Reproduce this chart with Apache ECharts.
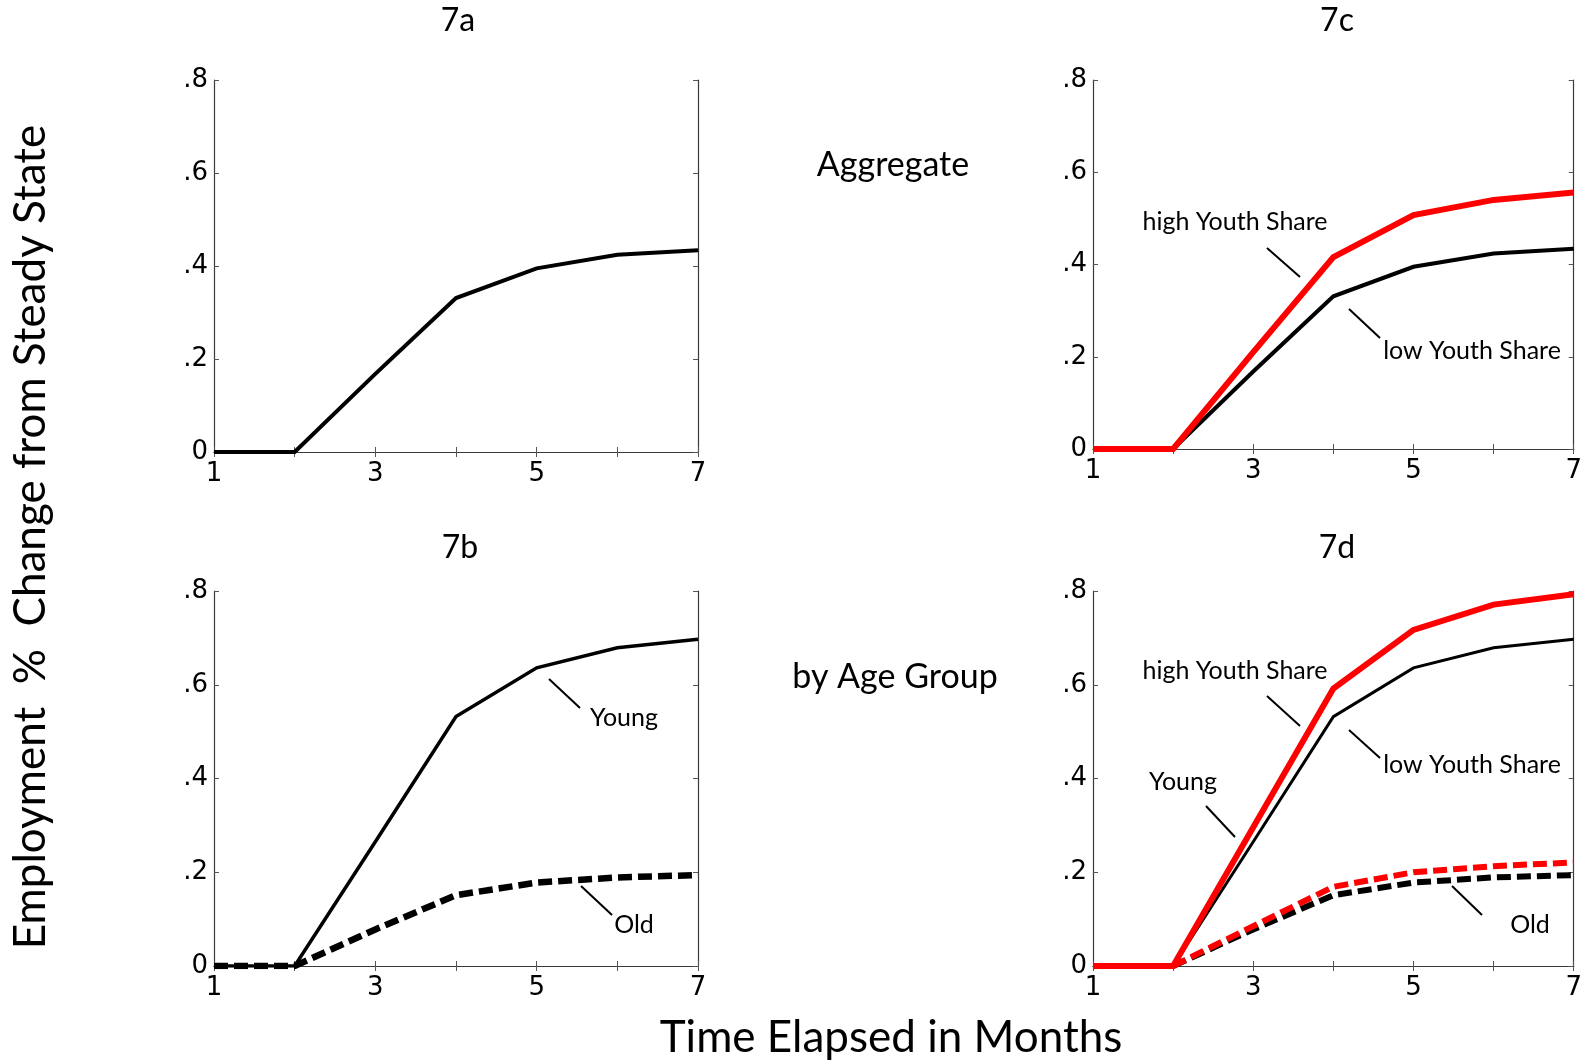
<!DOCTYPE html>
<html>
<head>
<meta charset="utf-8">
<script src="https://cdn.jsdelivr.net/npm/echarts@6/dist/echarts.min.js"></script>
<style>
html,body{margin:0;padding:0;background:#fff;}
#c{width:1585px;height:1062px;}
</style>
</head>
<body>
<div id="c"></div>
<script>
// ---- data ----
var months = [1, 2, 3, 4, 5, 6, 7];
var xTickLabels = ['1', '3', '5', '7'];
var yTickLabels = ['0', '.2', '.4', '.6', '.8'];
var aggregateLow  = [0, 0, 0.168, 0.331, 0.395, 0.424, 0.434];
var aggregateHigh = [0, 0, 0.210, 0.416, 0.507, 0.540, 0.556];
var youngLow  = [0, 0, 0.265, 0.532, 0.636, 0.679, 0.697];
var oldLow    = [0, 0, 0.078, 0.151, 0.178, 0.189, 0.194];
var youngHigh = [0, 0, 0.296, 0.592, 0.717, 0.771, 0.793];
var oldHigh   = [0, 0, 0.085, 0.169, 0.200, 0.213, 0.221];
var panelTitles = ['7a', '7c', '7b', '7d'];

function pairs(xs, ys) { return xs.map(function (x, i) { return [x, ys[i]]; }); }

var grids = [
  {left: 214, top: 80, width: 484, height: 372},
  {left: 1093, top: 80, width: 481, height: 369},
  {left: 214, top: 591, width: 484, height: 375},
  {left: 1093, top: 591, width: 485, height: 375}
];

var tickFont = 'DejaVu Sans';
var txtFont = 'Lato';
var frameColor = '#3a3a3a';

var xAxes = [], yAxes = [];
grids.forEach(function (g, i) {
  xAxes.push({
    type: 'value', gridIndex: i, min: 1, max: 7, interval: 1, position: 'bottom',
    axisLine: {show: true, lineStyle: {color: frameColor, width: 1.2}},
    axisTick: {show: true, inside: true, length: 5, lineStyle: {color: '#555'}},
    splitLine: {show: false},
    axisLabel: {
      show: true, margin: 9, fontFamily: tickFont, fontSize: 26, color: '#000',
      showMinLabel: true, showMaxLabel: true,
      formatter: function (v) { var s = String(Math.round(v)); return xTickLabels.indexOf(s) >= 0 ? s : ''; }
    }
  });
  xAxes.push({
    type: 'value', gridIndex: i, min: 1, max: 7, interval: 1, position: 'top',
    axisLine: {show: true, lineStyle: {color: frameColor, width: 1.2}},
    axisTick: {show: true, inside: true, length: 5, lineStyle: {color: '#555'}},
    splitLine: {show: false}, axisLabel: {show: false}
  });
  yAxes.push({
    type: 'value', gridIndex: i, min: 0, max: 0.8, interval: 0.2, position: 'left',
    axisLine: {show: true, lineStyle: {color: frameColor, width: 1.2}},
    axisTick: {show: true, inside: true, length: 5, lineStyle: {color: '#555'}},
    splitLine: {show: false},
    axisLabel: {
      show: true, margin: 6, fontFamily: tickFont, fontSize: 26, color: '#000',
      showMinLabel: true, showMaxLabel: true,
      formatter: function (v) { return yTickLabels[Math.round(v / 0.2)]; }
    }
  });
  yAxes.push({
    type: 'value', gridIndex: i, min: 0, max: 0.8, interval: 0.2, position: 'right',
    axisLine: {show: true, lineStyle: {color: frameColor, width: 1.2}},
    axisTick: {show: true, inside: true, length: 5, lineStyle: {color: '#555'}},
    splitLine: {show: false}, axisLabel: {show: false}
  });
});

function line(panel, data, color, width, dashed) {
  return {
    type: 'line', xAxisIndex: panel * 2, yAxisIndex: panel * 2,
    data: pairs(months, data), symbol: 'none', silent: true,
    lineStyle: {color: color, width: width, type: dashed ? [14, 6] : 'solid', cap: 'butt', join: 'miter'}
  };
}

var series = [
  line(0, aggregateLow, '#000', 4),
  line(1, aggregateLow, '#000', 4),
  line(1, aggregateHigh, '#ff0000', 6),
  line(2, youngLow, '#000', 3.5),
  line(2, oldLow, '#000', 6.5, true),
  line(3, youngLow, '#000', 3),
  line(3, oldLow, '#000', 6, true),
  line(3, youngHigh, '#ff0000', 6),
  line(3, oldHigh, '#ff0000', 6, true)
];

function txt(x, y, s, size, extra) {
  var o = {type: 'text', x: x, y: y, silent: true,
    style: {text: s, fontFamily: txtFont, fontSize: size, fill: '#000', textAlign: 'center', textVerticalAlign: 'middle'}};
  if (extra) for (var k in extra) o[k] = extra[k];
  return o;
}
function leader(x1, y1, x2, y2) {
  return {type: 'line', silent: true, shape: {x1: x1, y1: y1, x2: x2, y2: y2}, style: {stroke: '#000', lineWidth: 2}};
}

var graphics = [
  txt(458, 21, panelTitles[0], 32),
  txt(1337, 21, panelTitles[1], 32),
  txt(460, 548, panelTitles[2], 32),
  txt(1337, 548, panelTitles[3], 32),
  txt(893, 165, 'Aggregate', 34),
  txt(895, 677, 'by Age Group', 34),
  txt(891, 1038, 'Time Elapsed in Months', 44),
  txt(31, 537, 'Employment  %  Change from Steady State', 44, {rotation: Math.PI / 2}),
  // 7c annotations
  txt(1235, 222, 'high Youth Share', 25),
  leader(1267, 248, 1300, 277),
  txt(1472, 351, 'low Youth Share', 25),
  leader(1349, 309, 1380, 338),
  // 7b annotations
  txt(624, 718, 'Young', 25),
  leader(549, 679, 580, 708),
  txt(634, 925, 'Old', 25),
  leader(581, 886, 612, 915),
  // 7d annotations
  txt(1235, 671, 'high Youth Share', 25),
  leader(1267, 696, 1300, 726),
  txt(1472, 765, 'low Youth Share', 25),
  leader(1349, 730, 1380, 758),
  txt(1183, 782, 'Young', 25),
  leader(1206, 806, 1235, 837),
  txt(1530, 925, 'Old', 25),
  leader(1452, 886, 1482, 915)
];

var chart = echarts.init(document.getElementById('c'), null, {renderer: 'canvas'});
chart.setOption({
  animation: false,
  backgroundColor: '#fff',
  grid: grids,
  xAxis: xAxes,
  yAxis: yAxes,
  series: series,
  graphic: graphics
});
</script>
</body>
</html>
